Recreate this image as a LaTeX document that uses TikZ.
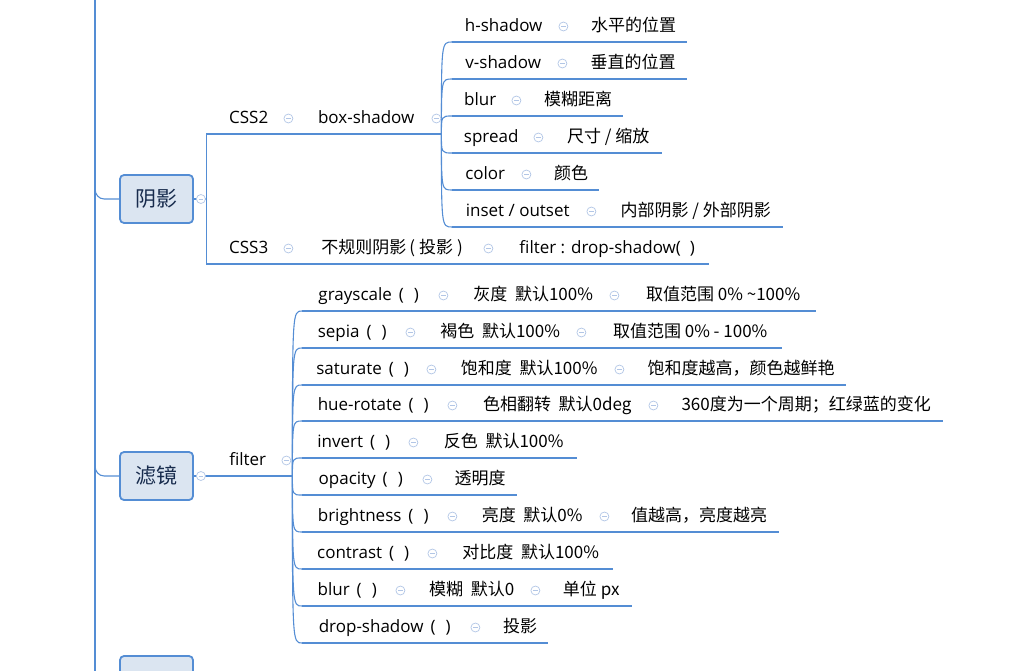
\documentclass[tikz,border=0pt]{standalone}
\usepackage{fontspec}
\setmainfont{Noto Sans CJK SC}
\newfontfamily\latinfont{Open Sans}
\usetikzlibrary{positioning}
\definecolor{linkblue}{RGB}{84,141,212}
\definecolor{boxfill}{RGB}{219,229,241}
\definecolor{boxtext}{RGB}{23,43,77}
\definecolor{foldgray}{RGB}{178,198,230}

\begin{document}
\begin{tikzpicture}[
    x=1pt, y=-1pt,
    link/.style={draw=linkblue, line width=1.1pt},
    uline/.style={draw=linkblue, line width=2.6pt},
    topic/.style={anchor=south west, inner xsep=0pt, inner ysep=6pt, text height=13pt, text depth=4pt, font=\fontsize{17}{20}\selectfont},
    lat/.style={topic, font=\fontsize{17}{20}\selectfont\latinfont},
    mainbox/.style={rectangle, rounded corners=4pt, draw=linkblue, line width=1.8pt, fill=boxfill, minimum width=73pt, minimum height=48pt, text=boxtext, font=\fontsize{21}{24}\selectfont},
    fold/.style={circle, draw=foldgray, fill=white, line width=0.7pt, minimum size=9pt, inner sep=0pt, path picture={\draw[foldgray, line width=0.7pt] ([xshift=-2.3pt]path picture bounding box.center) -- ([xshift=2.3pt]path picture bounding box.center);}}
]
    \useasboundingbox (0,0) rectangle (1027,671);
    \clip (0,0) rectangle (1027,671);

    % trunk
    \coordinate (top) at (95,-10);
    \coordinate (bot) at (95,720);
    \draw[link] (top) -- (bot);

    % main topics
    \node[mainbox] (ys) at (156.5,199) {阴影};
    \node[mainbox] (lj) at (156.5,476) {滤镜};
    \node[mainbox] (nx) at (156.5,680) {};
    \foreach \m in {ys,lj,nx}
        \draw[link] ([yshift=10pt]\m.west -| top) to[out=-90,in=180] ([xshift=-15pt]\m.west) -- (\m.west);

    % shadow: css2 / css3
    \node[lat, minimum width=63] (css2) at (217,134) {CSS2};
    \node[lat, minimum width=124] (bs) at (304,134) {box-shadow};
    \node[lat, minimum width=103] (hs) at (452,42) {h-shadow};
    \node[topic, minimum width=107] (hs2) at (580,42) {水平的位置};
    \node[lat, minimum width=102] (vs) at (452,79) {v-shadow};
    \node[topic, minimum width=108] (vs2) at (579,79) {垂直的位置};
    \node[lat, minimum width=56] (bl) at (452,116) {blur};
    \node[topic, minimum width=90] (bl2) at (533,116) {模糊距离};
    \node[lat, minimum width=78] (sp) at (452,153) {spread};
    \node[topic, minimum width=108] (sp2) at (554,153) {尺寸 / 缩放};
    \node[lat, minimum width=66] (co) at (452,190) {color};
    \node[topic, minimum width=56] (co2) at (543,190) {颜色};
    \node[lat, minimum width=131] (io) at (452,227) {inset / outset};
    \node[topic, minimum width=175] (io2) at (608,227) {内部阴影 / 外部阴影};
    \node[lat, minimum width=63] (css3) at (217,264) {CSS3};
    \node[topic, minimum width=176] (irr) at (304,264) {不规则阴影\hspace{3pt}(\hspace{4pt}投影\hspace{4pt})};
    \node[lat, minimum width=204] (dsf) at (505,264) {filter : drop-shadow(\hspace{9pt})};

    % filter functions
    \node[lat, minimum width=61] (flt) at (217,476) {filter};
    \node[lat, minimum width=133] (gs) at (302,311) {grayscale\hspace{7pt}(\hspace{10pt})};
    \node[topic, minimum width=146] (gs2) at (460,311) {灰度\ \ 默认100\%};
    \node[topic, minimum width=186] (gs3) at (630,311) {取值范围 0\% \textasciitilde100\%};
    \node[lat, minimum width=100] (se) at (302,348) {sepia\hspace{7pt}(\hspace{10pt})};
    \node[topic, minimum width=146] (se2) at (427,348) {褐色\ \ 默认100\%};
    \node[topic, minimum width=184] (se3) at (598,348) {取值范围 0\% - 100\%};
    \node[lat, minimum width=121] (sa) at (302,385) {saturate\hspace{7pt}(\hspace{10pt})};
    \node[topic, minimum width=164] (sa2) at (447,385) {饱和度\ \ 默认100\%};
    \node[topic, minimum width=210] (sa3) at (636,385) {饱和度越高，颜色越鲜艳};
    \node[lat, minimum width=142] (hr) at (302,421) {hue-rotate\hspace{7pt}(\hspace{10pt})};
    \node[topic, minimum width=176] (hr2) at (469,421) {色相翻转\ \ 默认0deg};
    \node[topic, minimum width=274] (hr3) at (669,421) {360度为一个周期；红绿蓝的变化};
    \node[lat, minimum width=103] (iv) at (302,458) {invert\hspace{7pt}(\hspace{10pt})};
    \node[topic, minimum width=147] (iv2) at (430,458) {反色\ \ 默认100\%};
    \node[lat, minimum width=117] (op) at (302,495) {opacity\hspace{7pt}(\hspace{10pt})};
    \node[topic, minimum width=74] (op2) at (443,495) {透明度};
    \node[lat, minimum width=142] (br) at (302,532) {brightness\hspace{7pt}(\hspace{10pt})};
    \node[topic, minimum width=128] (br2) at (468,532) {亮度\ \ 默认0\%};
    \node[topic, minimum width=160] (br3) at (619,532) {值越高，亮度越亮};
    \node[lat, minimum width=122] (ct) at (302,569) {contrast\hspace{7pt}(\hspace{10pt})};
    \node[topic, minimum width=165] (ct2) at (448,569) {对比度\ \ 默认100\%};
    \node[lat, minimum width=90] (bu) at (302,606) {blur\hspace{7pt}(\hspace{10pt})};
    \node[topic, minimum width=111] (bu2) at (416,606) {模糊\ \ 默认0};
    \node[topic, minimum width=82] (bu3) at (550,606) {单位 px};
    \node[lat, minimum width=165] (ds) at (302,643) {drop-shadow\hspace{7pt}(\hspace{10pt})};
    \node[topic, minimum width=56] (ds2) at (492,643) {投影};

    % underlines
    \foreach \n in {css2,bs,hs,hs2,vs,vs2,bl,bl2,sp,sp2,co,co2,io,io2,css3,irr,dsf,
        flt,gs,gs2,gs3,se,se2,se3,sa,sa2,sa3,hr,hr2,hr3,iv,iv2,op,op2,br,br2,br3,ct,ct2,bu,bu2,bu3,ds,ds2}
        \draw[uline] (\n.south west) -- (\n.south east);

    % straight links
    \foreach \a/\b in {css2/bs,hs/hs2,vs/vs2,bl/bl2,sp/sp2,co/co2,io/io2,css3/irr,irr/dsf,
        gs/gs2,gs2/gs3,se/se2,se2/se3,sa/sa2,sa2/sa3,hr/hr2,hr2/hr3,iv/iv2,op/op2,
        br/br2,br2/br3,ct/ct2,bu/bu2,bu2/bu3,ds/ds2}
        \draw[link] (\a.south east) -- (\b.south west);

    % elbow from shadow box
    \draw[link] (ys.east) -- ++(13,0) coordinate (ysj);
    \draw[link] (ysj) |- (css2.south west);
    \draw[link] (ysj) |- (css3.south west);
    \draw[link] (lj.east) -- (flt.south west);

    % fans
    \draw[link] (bs.south east) -- ++(13,0) coordinate (bsj);
    \foreach \c in {hs,vs,bl,sp,co,io}
        \draw[link] (bsj) .. controls (bsj |- \c.south west) .. (\c.south west);
    \draw[link] (flt.south east) -- ++(14,0) coordinate (fj);
    \foreach \c in {gs,se,sa,hr,iv,op,br,ct,bu,ds}
        \draw[link] (fj) .. controls (fj |- \c.south west) .. (\c.south west);

    % fold markers
    \foreach \n in {css2,bs,hs,vs,bl,sp,co,io,css3,irr,flt,gs,gs2,se,se2,sa,sa2,hr,hr2,iv,op,br,br2,ct,bu,bu2,ds}
        \node[fold] (\n-f) at ([shift={(8,-15.5)}]\n.south east) {};
    \node[fold] (ys-f) at ([xshift=7pt]ys.east) {};
    \node[fold] (lj-f) at ([xshift=7pt]lj.east) {};
\end{tikzpicture}
\end{document}
